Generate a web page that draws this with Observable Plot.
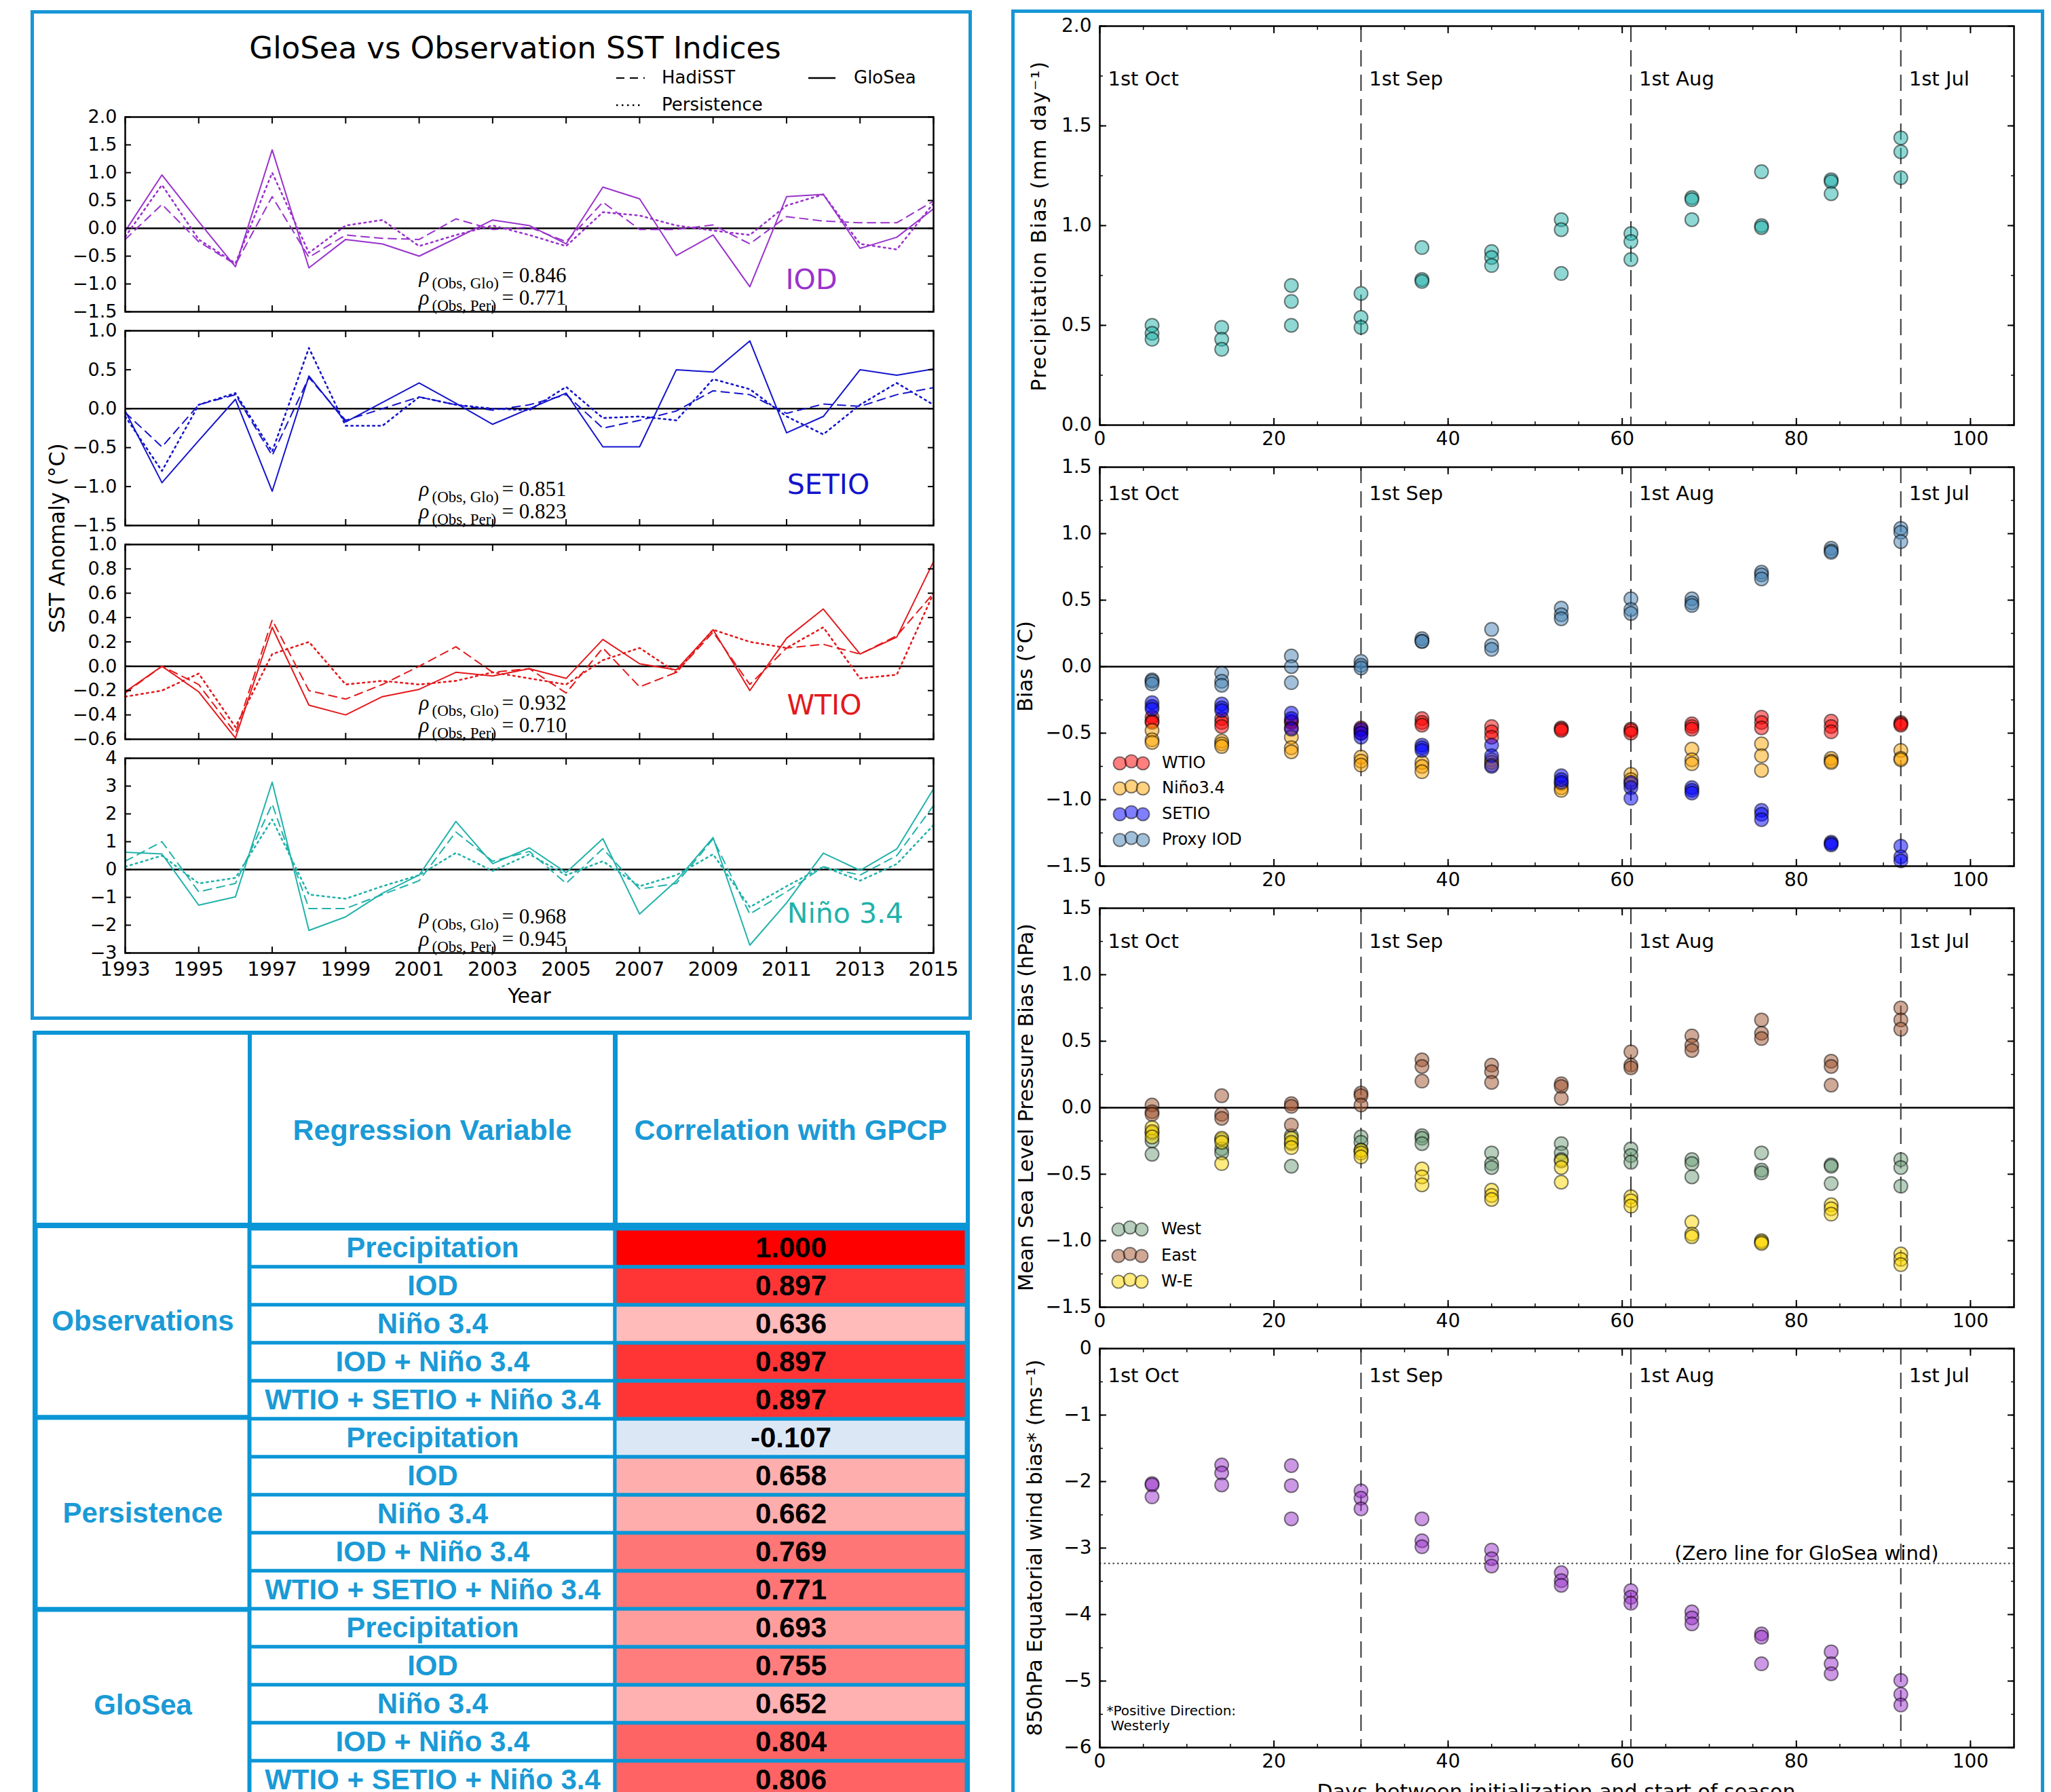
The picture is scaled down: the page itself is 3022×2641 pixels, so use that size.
<!DOCTYPE html>
<html>
<head>
<meta charset="utf-8">
<script src="https://cdn.jsdelivr.net/npm/d3@7"></script>
<script src="https://cdn.jsdelivr.net/npm/@observablehq/plot@0.6"></script>
<style>
  html,body{margin:0;padding:0;background:#fff;}
  body{width:3022px;height:2641px;position:relative;overflow:hidden;font-family:"DejaVu Sans",sans-serif;color:#000;}
  .abs{position:absolute;}
  .box{position:absolute;box-sizing:border-box;border:5px solid #1796d6;}
  .lbl{position:absolute;white-space:nowrap;line-height:1;transform:translate(-50%,-50%);}
  .vlbl{position:absolute;white-space:nowrap;line-height:1;transform:translate(-50%,-50%) rotate(-90deg);}
  .bar{position:absolute;background:#0a96d6;}
</style>
</head>
<body>
<script>
// ---------------- DATA: SST indices (left panel) ----------------
const years = [1993,1994,1995,1996,1997,1998,1999,2000,2001,2002,2003,2004,2005,2006,2007,2008,2009,2010,2011,2012,2013,2014,2015];
const yearTicks = [1993,1995,1997,1999,2001,2003,2005,2007,2009,2011,2013,2015];
const indexNames = ["IOD","SETIO","WTIO","Niño 3.4"];

const iodGlo = [-0.05,0.96,0.12,-0.69,1.41,-0.71,-0.20,-0.28,-0.50,-0.18,0.15,0.05,-0.28,0.74,0.53,-0.49,-0.12,-1.05,0.57,0.61,-0.36,-0.16,0.35];
const iodHad = [-0.20,0.43,-0.24,-0.65,0.57,-0.52,-0.12,-0.18,-0.20,0.17,-0.02,0.02,-0.24,0.47,-0.02,-0.02,0.06,-0.28,0.21,0.13,0.10,0.10,0.49];
const iodPer = [-0.15,0.78,-0.20,-0.63,1.00,-0.44,0.05,0.15,-0.32,-0.12,0.05,-0.12,-0.32,0.29,0.23,0.05,-0.04,-0.12,0.41,0.61,-0.28,-0.38,0.45];

const setioGlo = [-0.03,-0.95,-0.41,0.12,-1.06,0.42,-0.17,0.08,0.33,0.07,-0.20,0.00,0.20,-0.49,-0.49,0.50,0.47,0.87,-0.31,-0.10,0.50,0.43,0.51];
const setioHad = [-0.05,-0.49,0.05,0.18,-0.60,0.40,-0.15,0.00,0.15,0.05,-0.02,0.05,0.18,-0.25,-0.15,-0.03,0.23,0.18,-0.06,0.06,0.03,0.18,0.27];
const setioPer = [-0.10,-0.80,0.05,0.20,-0.55,0.78,-0.22,-0.22,0.15,0.05,0.00,-0.02,0.28,-0.12,-0.10,-0.15,0.38,0.25,-0.10,-0.33,0.05,0.33,0.05];

const wtioGlo = [-0.21,0.00,-0.21,-0.59,0.32,-0.32,-0.40,-0.25,-0.19,-0.05,-0.08,-0.02,-0.10,0.22,0.02,-0.03,0.30,-0.20,0.23,0.47,0.10,0.24,0.86];
const wtioHad = [-0.22,0.00,-0.15,-0.55,0.38,-0.20,-0.27,-0.15,0.00,0.16,-0.05,-0.02,-0.22,0.15,-0.17,-0.05,0.28,-0.15,0.15,0.18,0.10,0.25,0.60];
const wtioPer = [-0.25,-0.20,-0.06,-0.50,0.10,0.20,-0.15,-0.12,-0.15,-0.12,-0.05,-0.10,-0.15,0.05,0.15,-0.05,0.30,0.20,0.15,0.32,-0.10,-0.07,0.60];

const ninoGlo = [0.62,0.56,-1.28,-0.98,3.14,-2.19,-1.70,-0.85,-0.20,1.73,0.21,0.78,-0.11,1.11,-1.60,-0.40,1.15,-2.72,-1.20,0.59,-0.03,0.74,2.90];
const ninoHad = [0.30,1.00,-0.80,-0.50,2.35,-1.40,-1.40,-0.90,-0.40,1.35,0.30,0.65,-0.50,0.75,-0.70,-0.50,1.10,-1.60,-0.80,0.10,-0.20,0.50,2.30];
const ninoPer = [0.10,0.50,-0.50,-0.30,1.80,-0.90,-1.05,-0.60,-0.20,0.60,-0.05,0.55,-0.20,0.30,-0.60,-0.20,0.55,-1.35,-0.60,0.10,-0.40,0.20,1.60];

const rhoObsGlo = [0.846,0.851,0.932,0.968];
const rhoObsPer = [0.771,0.823,0.710,0.945];

const iodTicks = [-1.5,-1.0,-0.5,0,0.5,1.0,1.5,2.0];
const setioTicks = [-1.5,-1.0,-0.5,0,0.5,1.0];
const wtioTicks = [-0.6,-0.4,-0.2,0,0.2,0.4,0.6,0.8,1.0];
const ninoTicks = [-3,-2,-1,0,1,2,3,4];

// ---------------- DATA: bias vs lead time (right panel) ----------------
const days = [6,14,22,30,37,45,53,61,68,76,84,92];
const monthStarts = [0,30,61,92];
const monthNames = ["1st Oct","1st Sep","1st Aug","1st Jul"];
const dayTicks = [0,20,40,60,80,100];

const precipBias = [[0.50,0.46,0.43],[0.49,0.43,0.38],[0.70,0.62,0.50],[0.66,0.54,0.49],[0.89,0.73,0.72],[0.87,0.84,0.80],[1.03,0.98,0.76],[0.96,0.92,0.83],[1.14,1.13,1.03],[1.27,1.00,0.99],[1.23,1.22,1.16],[1.44,1.37,1.24]];

const sstWTIO = [[-0.38,-0.41,-0.42],[-0.39,-0.42,-0.45],[-0.41,-0.42,-0.46],[-0.46,-0.48,-0.50],[-0.39,-0.42,-0.44],[-0.45,-0.49,-0.53],[-0.46,-0.47,-0.48],[-0.47,-0.48,-0.50],[-0.43,-0.45,-0.47],[-0.38,-0.42,-0.46],[-0.41,-0.45,-0.49],[-0.42,-0.43,-0.44]];
const sstNino = [[-0.48,-0.55,-0.57],[-0.56,-0.58,-0.60],[-0.53,-0.61,-0.64],[-0.68,-0.71,-0.74],[-0.72,-0.75,-0.79],[-0.70,-0.72,-0.74],[-0.88,-0.91,-0.93],[-0.81,-0.85,-0.88],[-0.62,-0.70,-0.73],[-0.58,-0.67,-0.78],[-0.69,-0.71,-0.72],[-0.63,-0.69,-0.70]];
const sstSETIO = [[-0.27,-0.30,-0.32],[-0.28,-0.31,-0.33],[-0.35,-0.39,-0.47],[-0.47,-0.50,-0.53],[-0.59,-0.61,-0.63],[-0.59,-0.67,-0.75],[-0.82,-0.85,-0.87],[-0.87,-0.91,-0.99],[-0.91,-0.93,-0.95],[-1.08,-1.11,-1.15],[-1.32,-1.33,-1.34],[-1.35,-1.43,-1.46]];
const sstProxyIOD = [[-0.10,-0.11,-0.13],[-0.05,-0.11,-0.14],[0.08,0.00,-0.12],[0.04,0.01,-0.01],[0.21,0.19,0.19],[0.28,0.16,0.13],[0.44,0.39,0.36],[0.51,0.43,0.40],[0.51,0.48,0.46],[0.71,0.69,0.66],[0.89,0.87,0.86],[1.04,1.01,0.94]];

const mslpWest = [[-0.19,-0.25,-0.35],[-0.24,-0.31,-0.34],[-0.21,-0.27,-0.44],[-0.22,-0.26,-0.32],[-0.21,-0.23,-0.27],[-0.34,-0.42,-0.45],[-0.27,-0.34,-0.39],[-0.31,-0.36,-0.41],[-0.39,-0.42,-0.52],[-0.34,-0.47,-0.49],[-0.43,-0.44,-0.57],[-0.39,-0.45,-0.59]];
const mslpEast = [[0.02,-0.03,-0.05],[0.09,-0.05,-0.08],[0.03,0.01,-0.13],[0.11,0.09,0.02],[0.36,0.31,0.20],[0.32,0.27,0.19],[0.18,0.16,0.07],[0.42,0.32,0.30],[0.54,0.47,0.43],[0.66,0.56,0.52],[0.35,0.31,0.17],[0.75,0.66,0.59]];
const mslpWE = [[-0.15,-0.18,-0.22],[-0.23,-0.26,-0.42],[-0.23,-0.26,-0.30],[-0.32,-0.34,-0.37],[-0.46,-0.52,-0.58],[-0.62,-0.66,-0.69],[-0.40,-0.45,-0.56],[-0.67,-0.70,-0.74],[-0.86,-0.95,-0.97],[-1.00,-1.01,-1.02],[-0.73,-0.76,-0.80],[-1.10,-1.14,-1.18]];

const windBias = [[-2.03,-2.05,-2.23],[-1.75,-1.87,-2.05],[-1.76,-2.06,-2.56],[-2.14,-2.25,-2.41],[-2.56,-2.89,-2.98],[-3.03,-3.16,-3.27],[-3.37,-3.49,-3.56],[-3.64,-3.74,-3.83],[-3.96,-4.05,-4.14],[-4.29,-4.34,-4.74],[-4.56,-4.74,-4.89],[-4.99,-5.20,-5.36]];
const gloSeaWindZero = -3.23;

const precipTicks = [0,0.5,1.0,1.5,2.0];
const biasTicks = [-1.5,-1.0,-0.5,0,0.5,1.0,1.5];
const windTicks = [-6,-5,-4,-3,-2,-1,0];

// ---------------- DATA: table ----------------
const groups = ["Observations","Persistence","GloSea"];
const regVars = ["Precipitation","IOD","Niño 3.4","IOD + Niño 3.4","WTIO + SETIO + Niño 3.4"];
const corrObs = [1.000,0.897,0.636,0.897,0.897];
const corrPer = [-0.107,0.658,0.662,0.769,0.771];
const corrGlo = [0.693,0.755,0.652,0.804,0.806];

// ---------------- helpers ----------------
const BLUE = "#0a96d6";
const TXTBLUE = "#1a9ad6";
const svgStyle = {background:"transparent", overflow:"visible", fontFamily:"DejaVu Sans", maxWidth:"none", color:"black"};
const none = () => "";

function place(node, left, top) {
  const d = document.createElement("div");
  d.className = "abs";
  d.style.left = left + "px"; d.style.top = top + "px";
  d.appendChild(node);
  document.body.appendChild(d);
  return d;
}
function html(str) { document.body.insertAdjacentHTML("beforeend", str); }

function frameAxes({xTicks, xMinor, yTicks, yMinor, yFmt, xFmt, yFont, xFont, xLabels, major = 9, minor = 5, xPad = 10}) {
  const m = [];
  m.push(Plot.axisY({ticks: yTicks, tickSize: 0, tickPadding: 12, tickFormat: yFmt, fontSize: yFont, label: null}));
  for (const a of ["left", "right"]) {
    m.push(Plot.axisY({anchor: a, ticks: yTicks, tickSize: -major, tickFormat: none, label: null, strokeWidth: 2}));
    if (yMinor) m.push(Plot.axisY({anchor: a, ticks: yMinor, tickSize: -minor, tickFormat: none, label: null, strokeWidth: 1.5}));
  }
  for (const a of ["top", "bottom"]) {
    m.push(Plot.axisX({anchor: a, ticks: xTicks, tickSize: -major, tickFormat: none, label: null, strokeWidth: 2}));
    if (xMinor) m.push(Plot.axisX({anchor: a, ticks: xMinor, tickSize: -minor, tickFormat: none, label: null, strokeWidth: 1.5}));
  }
  if (xLabels) m.push(Plot.axisX({anchor: "bottom", ticks: xTicks, tickSize: 0, tickPadding: xPad, tickFormat: xFmt, fontSize: xFont, label: null}));
  return m;
}

// ---------------- left: SST index panels ----------------
const sstSpecs = [
  {glo: iodGlo, had: iodHad, per: iodPer, color: "#9932cc", domain: [-1.5, 2], ticks: iodTicks, fmt: ".1f", top: 172, nameDx: -180, nameDy: -34},
  {glo: setioGlo, had: setioHad, per: setioPer, color: "#1414cc", domain: [-1.5, 1], ticks: setioTicks, fmt: ".1f", top: 487, nameDx: -155, nameDy: -47},
  {glo: wtioGlo, had: wtioHad, per: wtioPer, color: "#e3191c", domain: [-0.6, 1], ticks: wtioTicks, fmt: ".1f", top: 802, nameDx: -161, nameDy: -37},
  {glo: ninoGlo, had: ninoHad, per: ninoPer, color: "#20b2aa", domain: [-3, 4], ticks: ninoTicks, fmt: "d", top: 1117, nameDx: -130, nameDy: -45, last: true}
];

sstSpecs.forEach((p, i) => {
  const mL = 130, mR = 30, mT = 15, mB = p.last ? 60 : 15;
  const W = 1191, H = 287;
  const ser = (vals) => vals.map((v, j) => ({year: years[j], v}));
  const rhoText = (dy, sub, val) => [
    Plot.text(["ρ"], {text: d => d, frameAnchor: "bottom-left", dx: 433, dy, textAnchor: "start", fontFamily: "Liberation Serif", fontStyle: "italic", fontSize: 31}),
    Plot.text([sub], {text: d => d, frameAnchor: "bottom-left", dx: 452, dy: dy + 9, textAnchor: "start", fontFamily: "Liberation Serif", fontSize: 23}),
    Plot.text([val], {text: d => "= " + d3.format(".3f")(d), frameAnchor: "bottom-left", dx: 555, dy, textAnchor: "start", fontFamily: "Liberation Serif", fontSize: 31})
  ];
  const chart = Plot.plot({
    width: mL + W + mR, height: mT + H + mB,
    marginLeft: mL, marginRight: mR, marginTop: mT, marginBottom: mB,
    style: svgStyle,
    x: {domain: [1993, 2015]},
    y: {domain: p.domain},
    marks: [
      Plot.ruleY([0], {stroke: "black", strokeWidth: 2.5}),
      Plot.line(ser(p.had), {x: "year", y: "v", stroke: p.color, strokeWidth: 2, strokeDasharray: "12,8"}),
      Plot.line(ser(p.per), {x: "year", y: "v", stroke: p.color, strokeWidth: 2.6, strokeDasharray: "2.5,5.5"}),
      Plot.line(ser(p.glo), {x: "year", y: "v", stroke: p.color, strokeWidth: 2}),
      Plot.frame({stroke: "black", strokeWidth: 2.5}),
      ...frameAxes({xTicks: yearTicks, yTicks: p.ticks, yFmt: d3.format(p.fmt), xFmt: d => String(d), yFont: 27, xFont: 29, xLabels: p.last, xPad: 13}),
      Plot.text([indexNames[i]], {text: d => d, frameAnchor: "bottom-right", dx: p.nameDx, dy: p.nameDy, textAnchor: "middle", fill: p.color, fontSize: 41}),
      ...rhoText(-44, "(Obs, Glo)", rhoObsGlo[i]),
      ...rhoText(-11, "(Obs, Per)", rhoObsPer[i])
    ]
  });
  place(chart, 184 - mL, p.top - mT);
});

// ---------------- right: bias panels ----------------
const flatPts = (vals) => days.flatMap((d, i) => vals[i].map(v => ({day: d, v})));
const biasSpecs = [
  {top: 38, domain: [0, 2], ticks: precipTicks, minor: d3.range(0, 2.001, 0.25), fmt: ".1f", zero: false, monthDy: 67,
   series: [{values: precipBias, color: "#20b2aa"}]},
  {top: 688, domain: [-1.5, 1.5], ticks: biasTicks, minor: d3.range(-1.5, 1.501, 0.25), fmt: ".1f", zero: true, monthDy: 28,
   series: [{values: sstWTIO, color: "red"}, {values: sstNino, color: "orange"}, {values: sstSETIO, color: "blue"}, {values: sstProxyIOD, color: "steelblue"}]},
  {top: 1338, domain: [-1.5, 1.5], ticks: biasTicks, minor: d3.range(-1.5, 1.501, 0.25), fmt: ".1f", zero: true, monthDy: 38,
   series: [{values: mslpWest, color: "#6e9e78"}, {values: mslpEast, color: "sienna"}, {values: mslpWE, color: "gold"}]},
  {top: 1987, domain: [-6, 0], ticks: windTicks, minor: d3.range(-6, 0.001, 0.5), fmt: "d", zero: false, monthDy: 29, wind: true,
   series: [{values: windBias, color: "#9932cc"}]}
];

biasSpecs.forEach(p => {
  const mL = 120, mR = 30, mT = 15, mB = 55;
  const W = 1347, H = 588;
  const marks = [];
  if (p.zero) marks.push(Plot.ruleY([0], {stroke: "black", strokeWidth: 2.5}));
  marks.push(Plot.ruleX(monthStarts.slice(1), {x: d => d, stroke: "#333", strokeWidth: 2, strokeDasharray: "24,12"}));
  if (p.wind) {
    marks.push(Plot.ruleY([gloSeaWindZero], {y: d => d, stroke: "#555", strokeWidth: 2.2, strokeDasharray: "2.5,4"}));
    marks.push(Plot.text([gloSeaWindZero], {x: () => 66, y: d => d, dy: -14, text: () => "(Zero line for GloSea wind)", textAnchor: "start", fontSize: 29}));
    marks.push(Plot.text(["*Positive Direction:"], {text: d => d, frameAnchor: "bottom-left", dx: 10, dy: -48, textAnchor: "start", fontSize: 20}));
    marks.push(Plot.text([" Westerly"], {text: d => d, frameAnchor: "bottom-left", dx: 10, dy: -26, textAnchor: "start", fontSize: 20}));
  }
  for (const s of p.series) {
    marks.push(Plot.dot(flatPts(s.values), {x: "day", y: "v", r: 10, fill: s.color, fillOpacity: 0.5, stroke: "black", strokeOpacity: 0.5, strokeWidth: 2}));
  }
  marks.push(Plot.text(monthStarts, {x: d => d, text: (d, i) => monthNames[i], frameAnchor: "top", dy: p.monthDy, dx: 12, textAnchor: "start", fontSize: 29}));
  marks.push(Plot.frame({stroke: "black", strokeWidth: 2.5}));
  marks.push(...frameAxes({xTicks: dayTicks, xMinor: d3.range(0, 106, 5), yTicks: p.ticks, yMinor: p.minor, yFmt: d3.format(p.fmt), xFmt: d => String(d), yFont: 28, xFont: 28, xLabels: true, major: 10, minor: 5, xPad: 10}));
  const chart = Plot.plot({
    width: mL + W + mR, height: mT + H + mB,
    marginLeft: mL, marginRight: mR, marginTop: mT, marginBottom: mB,
    style: svgStyle,
    x: {domain: [0, 105]},
    y: {domain: p.domain},
    marks
  });
  place(chart, 1620 - mL, p.top - mT);
});

// ---------------- table ----------------
const corrTable = [corrObs, corrPer, corrGlo];
const tableRows = groups.flatMap((g, gi) => regVars.map((v, vi) => ({key: gi + "-" + vi, group: g, variable: v, r: corrTable[gi][vi]})));
const rowH = 56.6, tableTop = 1806, bodyH = rowH * tableRows.length;
const tblFont = {fontFamily: "Liberation Sans", fontWeight: "bold", fontSize: 42};

const groupPlot = Plot.plot({
  width: 316, height: bodyH, margin: 0, style: svgStyle,
  y: {type: "band", domain: groups, padding: 0, axis: null},
  marks: [
    Plot.cell(groups, {y: d => d, fill: "white", stroke: BLUE, strokeWidth: 7}),
    Plot.text(groups, {y: d => d, text: d => d, fill: TXTBLUE, ...tblFont})
  ]
});
place(groupPlot, 52, tableTop);

const varPlot = Plot.plot({
  width: 538, height: bodyH, margin: 0, style: svgStyle,
  y: {type: "band", domain: tableRows.map(d => d.key), padding: 0, axis: null},
  marks: [
    Plot.cell(tableRows, {y: "key", fill: "white", stroke: BLUE, strokeWidth: 5}),
    Plot.text(tableRows, {y: "key", text: "variable", fill: TXTBLUE, ...tblFont})
  ]
});
place(varPlot, 368, tableTop);

const valPlot = Plot.plot({
  width: 518, height: bodyH, margin: 0, style: svgStyle,
  y: {type: "band", domain: tableRows.map(d => d.key), padding: 0, axis: null},
  color: {type: "linear", domain: [-0.3, 0.5, 1], range: ["#cfe0f2", "#ffffff", "#ff0000"], interpolate: "rgb"},
  marks: [
    Plot.cell(tableRows, {y: "key", fill: "r"}),
    Plot.cell(tableRows, {y: "key", fill: "none", stroke: BLUE, strokeWidth: 5}),
    Plot.text(tableRows, {y: "key", text: d => d.r.toFixed(3), fill: "black", ...tblFont})
  ]
});
place(valPlot, 906, tableTop);

// table frame & header (layout)
html(`<div class="box" style="left:48px;top:1519px;width:1381px;height:1200px;border-width:6px;border-color:${BLUE}"></div>`);
html(`<div class="bar" style="left:365px;top:1519px;width:6px;height:290px"></div>`);
html(`<div class="bar" style="left:903px;top:1519px;width:7px;height:290px"></div>`);
html(`<div class="bar" style="left:48px;top:1802px;width:1381px;height:8px"></div>`);
html(`<div class="lbl" style="left:637px;top:1665px;font-family:'Liberation Sans';font-weight:bold;font-size:43px;color:${TXTBLUE}">Regression Variable</div>`);
html(`<div class="lbl" style="left:1165px;top:1665px;font-family:'Liberation Sans';font-weight:bold;font-size:43px;color:${TXTBLUE}">Correlation with GPCP</div>`);

// ---------------- frames, titles, labels ----------------
html(`<div class="box" style="left:45px;top:15px;width:1387px;height:1488px"></div>`);
html(`<div class="box" style="left:1490px;top:14px;width:1522px;height:2700px"></div>`);
html(`<div class="lbl" style="left:759px;top:70px;font-size:45px">GloSea vs Observation SST Indices</div>`);
html(`<div class="vlbl" style="left:85px;top:793px;font-size:31.5px">SST Anomaly (°C)</div>`);
html(`<div class="lbl" style="left:780px;top:1468px;font-size:30px">Year</div>`);
html(`<div class="vlbl" style="left:1531px;top:333px;font-size:30px;letter-spacing:1.5px">Precipitation Bias (mm day⁻¹)</div>`);
html(`<div class="vlbl" style="left:1511px;top:982px;font-size:30.5px">Bias (°C)</div>`);
html(`<div class="vlbl" style="left:1512px;top:1632px;font-size:30.5px">Mean Sea Level Pressure Bias (hPa)</div>`);
html(`<div class="vlbl" style="left:1525px;top:2281px;font-size:30.5px">850hPa Equatorial wind bias* (ms⁻¹)</div>`);
html(`<div class="lbl" style="left:2293px;top:2641px;font-size:30px">Days between initialization and start of season</div>`);

// legends (layout decoration)
function legendRows(items, x0, y0s, textX) {
  return items.map((it, k) => {
    const y = y0s[k];
    const circles = [0, 1, 2].map(j => `<circle cx="${x0 + j * 17}" cy="${y + (j === 1 ? -3 : 0)}" r="9.5" fill="${it.color}" fill-opacity="0.5" stroke="black" stroke-opacity="0.5" stroke-width="2"/>`).join("");
    return circles + `<text x="${textX}" y="${y}" dominant-baseline="middle" font-size="24" font-family="DejaVu Sans">${it.name}</text>`;
  }).join("");
}
const sstLeg = legendRows([{name: "WTIO", color: "red"}, {name: "Niño3.4", color: "orange"}, {name: "SETIO", color: "blue"}, {name: "Proxy IOD", color: "steelblue"}], 1650, [1125, 1162, 1200, 1238], 1712);
const mslpLeg = legendRows([{name: "West", color: "#6e9e78"}, {name: "East", color: "sienna"}, {name: "W-E", color: "gold"}], 1648, [1812, 1851, 1889], 1711);
html(`<svg class="abs" style="left:0;top:0;pointer-events:none" width="3022" height="2641">
  <line x1="908" x2="950" y1="115" y2="115" stroke="black" stroke-width="2" stroke-dasharray="12,8"/>
  <text x="975" y="115" dominant-baseline="middle" font-size="26" font-family="DejaVu Sans">HadiSST</text>
  <line x1="1191" x2="1231" y1="115" y2="115" stroke="black" stroke-width="2.5"/>
  <text x="1258" y="115" dominant-baseline="middle" font-size="26" font-family="DejaVu Sans">GloSea</text>
  <line x1="908" x2="946" y1="155" y2="155" stroke="black" stroke-width="2.6" stroke-dasharray="2.5,5.5"/>
  <text x="975" y="155" dominant-baseline="middle" font-size="26" font-family="DejaVu Sans">Persistence</text>
  ${sstLeg}${mslpLeg}
</svg>`);
</script>
</body>
</html>
